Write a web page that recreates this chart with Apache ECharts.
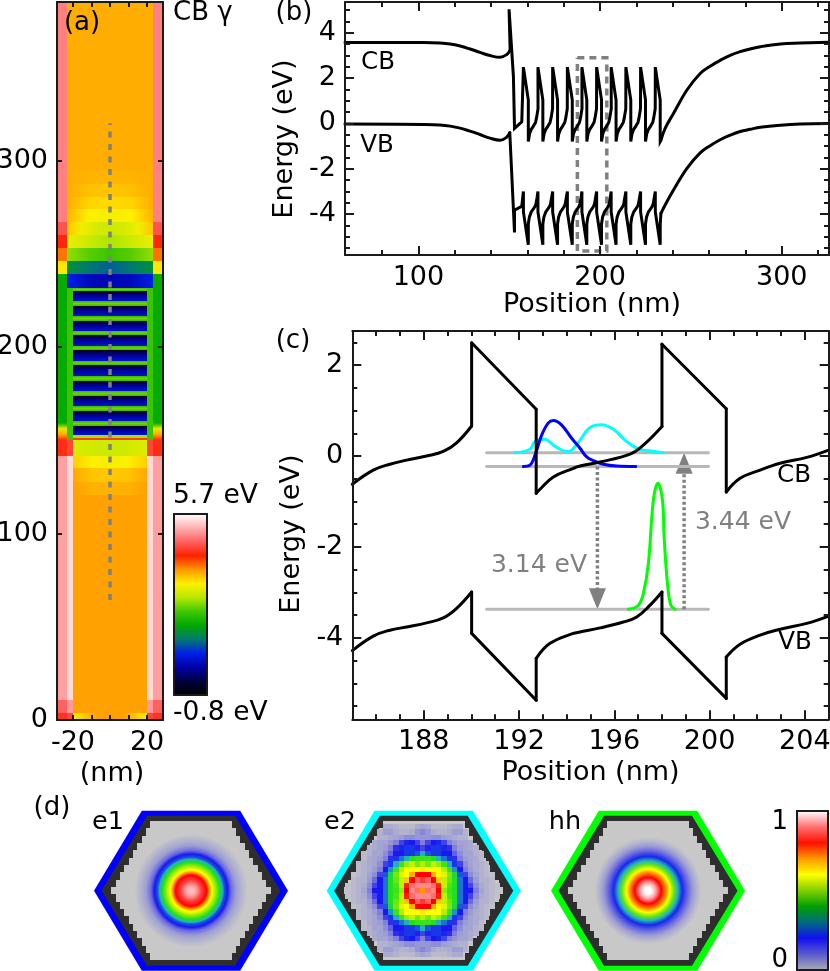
<!DOCTYPE html>
<html>
<head>
<meta charset="utf-8">
<title>Nanowire band structure</title>
<script src="https://cdn.jsdelivr.net/npm/echarts@6/dist/echarts.min.js"></script>
<style>
  html, body { margin: 0; padding: 0; background: #fff; }
  #chart { width: 830px; height: 971px; }
</style>
</head>
<body>
<div id="chart"></div>
<script>
// panel (c): one period and a bit of the band edges
const cbX = [185, 185.88, 186.58, 187.28, 188.12, 188.82, 189.38, 190.01, 190.01, 192.72, 192.72, 192.88, 193.44, 194.28, 194.56, 195.4, 196.66, 197.22, 198, 198, 200.7, 200.7, 201.28, 202.12, 202.96, 204.08, 205];
const cbY = [-0.62, -0.31, -0.18, -0.09, 0, 0.1, 0.29, 0.66, 2.49, 1.03, -0.82, -0.73, -0.46, -0.27, -0.22, -0.13, 0.04, 0.24, 0.65, 2.46, 1.04, -0.79, -0.49, -0.31, -0.16, -0.03, 0.13];
const vbX = [185, 185.88, 186.58, 187.28, 188.12, 188.82, 189.38, 190.01, 190.01, 192.72, 192.72, 193.3, 194.28, 194.56, 195.4, 196.38, 196.94, 197.5, 198, 198, 200.7, 200.7, 201.28, 202.12, 202.96, 204.08, 205];
const vbY = [-4.28, -3.96, -3.83, -3.76, -3.67, -3.56, -3.35, -2.99, -3.9, -5.37, -4.45, -4.12, -3.9, -3.87, -3.78, -3.65, -3.54, -3.28, -2.99, -3.9, -5.33, -4.42, -4.14, -3.94, -3.81, -3.68, -3.52];
const bandCorners = [7, 8, 9, 10, 18, 19, 20, 21];

const e1WaveX = [192.18, 192.46, 192.67, 192.95, 193.23, 193.44, 193.79, 194.21, 194.56, 194.84, 195.12, 195.54, 196.1, 196.9];
const e1WaveY = [-0.23, -0.2, 0.02, 0.46, 0.73, 0.78, 0.68, 0.39, 0.17, -0.02, -0.1, -0.18, -0.22, -0.23];
const e2WaveX = [191.83, 192.46, 192.67, 193.09, 193.44, 193.79, 194.07, 194.41, 194.56, 194.98, 195.47, 195.96, 196.45, 196.94, 197.36, 198.05];
const e2WaveY = [0.07, 0.15, 0.32, 0.37, 0.24, 0.13, 0.1, 0.24, 0.35, 0.63, 0.69, 0.59, 0.35, 0.17, 0.12, 0.07];
const hhWaveX = [196.59, 197.01, 197.22, 197.43, 197.64, 197.83, 198.02, 198.09, 198.23, 198.37, 198.55];
const hhWaveY = [-3.37, -3.28, -3.02, -2.36, -0.97, -0.6, -0.97, -1.78, -2.8, -3.28, -3.37];

const levelY = [0.07, -0.23, -3.37];
const levelX = [190.64, 199.95];
const arrowDownX = 195.29;
const arrowUpX = 198.93;

// panel (b): the whole stack, lead-in and tail plus ten teeth
const peakX = [157.8, 165.8, 173.9, 182, 190, 198.1, 206.1, 214.2, 222.3, 230.4];
const bCbLeadX = [59.6, 102.8, 111.9, 117.5, 123, 128.4, 133.9, 139.4, 145, 148.7, 150.5];
const bCbLeadY = [3.56, 3.56, 3.54, 3.5, 3.41, 3.28, 3.13, 2.99, 2.91, 3.04, 3.23];
const bCbSpikeX = [149.9, 152.3, 152.9, 156.9];
const bCbSpikeY = [5.03, 2.06, -0.22, 0.07];
const cbToothDx = [0, 2.7, 2.7, 3.4, 4.3, 5.4, 6.66, 7.22, 8.05];
const cbToothY = [2.48, 1.03, -0.8, -0.45, -0.27, -0.13, 0.04, 0.24, 0.65];
const bCbTailX = [233.5, 235.8, 240.4, 247.8, 255.1, 260.6, 266.1, 271.6, 277.1, 282.6, 288.2, 299.2, 310.2, 326];
const bCbTailY = [-0.74, -0.22, 0.44, 1.47, 2.2, 2.52, 2.78, 3, 3.16, 3.28, 3.38, 3.5, 3.54, 3.58];
const bVbLeadX = [59.6, 102.8, 111.9, 117.5, 123, 128.4, 133.9, 139.4, 145, 148.7, 150.3];
const bVbLeadY = [-0.03, -0.05, -0.07, -0.12, -0.21, -0.34, -0.49, -0.65, -0.74, -0.6, -0.41];
const bVbSpikeX = [152.9, 152.9, 156.9];
const bVbSpikeY = [-4.81, -3.82, -3.65];
const vbToothDx = [0, 0, 2.7, 2.7, 3.3, 4.3, 5.4, 6.4, 6.94, 7.5];
const vbToothY = [-3, -3.9, -5.35, -4.43, -4.12, -3.9, -3.78, -3.65, -3.54, -3.28];
const bVbTailX = [233.5, 235.8, 240.4, 247.8, 255.1, 260.6, 266.1, 271.6, 277.1, 282.6, 288.2, 299.2, 310.2, 326];
const bVbTailY = [-3.97, -3.6, -2.94, -1.98, -1.3, -0.98, -0.72, -0.52, -0.36, -0.26, -0.17, -0.08, -0.03, -0.01];
const boxX = [187.5, 203.7, 203.7, 187.5, 187.5];
const boxY = [2.89, 2.89, -5.62, -5.62, 2.89];

// panel (a): CB energy map, patches are x0, x1, y0, y1 in nm and energies in eV
const energyColors = ['#000000', '#000040', '#0000a8', '#0020e8', '#007a70', '#00a800', '#40c800', '#b8e800', '#fff000', '#ff9800', '#ff2000', '#ff6060', '#ffb0b0', '#ffffff'];
const rowPatches = [ // energies run left to right
  [-23, 23, 294.2, 385, [3.58, 3.58, 3.58]],
  [-23, 23, 287.4, 294.2, [3.58, 3.54, 3.53, 3.54, 3.58]],
  [-23, 23, 280.6, 287.4, [3.58, 3.47, 3.44, 3.47, 3.58]],
  [-23, 23, 273.8, 280.6, [3.58, 3.36, 3.32, 3.36, 3.58]],
  [-23, 23, 267, 273.8, [3.55, 3.2, 3.12, 3.2, 3.55]],
  [-23, 23, 260, 267, [3.45, 3.1, 2.9, 2.85, 2.9, 3.1, 3.45]],
  [-23, 23, 253, 260, [3.05, 2.85, 2.65, 2.85, 3.05]],
  [-23, 23, 246.1, 253, [2.55, 2.3, 2.15, 2.3, 2.55]],
  [-23, 23, 239.4, 246.1, [1.45, 1.2, 1.05, 1.2, 1.45]],
  [-23, 23, 231.4, 239.4, [0.7, 0.35, 0.3, 0.35, 0.7]],
  [-23, 23, 150, 231.4, [2.15, 2.15]],
  [-20, 20, 141.6, 150.1, [2.95, 2.85, 2.85, 2.95]],
  [-20, 20, 135, 141.6, [3.4, 3.17, 3.14, 3.17, 3.4]],
  [-20, 20, 127.8, 135, [3.6, 3.45, 3.42, 3.45, 3.6]],
  [-20, 20, 120.6, 127.8, [3.65, 3.56, 3.54, 3.56, 3.65]],
  [-20, 20, 3.6, 120.6, [3.65, 3.65]],
  [-20, 20, 0, 3.6, [3.15, 3.65, 3.65, 3.15]]
];
const shellBands = [ // y0, y1, energy of the outer shell
  [267, 385, 4.9],
  [260, 267, 4.6],
  [253, 260, 4.25],
  [246.1, 253, 3.85],
  [239.4, 246.1, 3.25],
  [159, 239.4, 1.75],
  [141.6, 150, 4.3],
  [10.7, 141.6, 5.1],
  [3.6, 10.7, 4.7],
  [0, 3.6, 4.35]
];
const innerShellBands = [ // y0, y1, energy of the thin column next to the core
  [141.6, 150, 4.5],
  [10.7, 141.6, 5.45],
  [3.6, 10.7, 5.05],
  [0, 3.6, 4.5]
];
const wellTops = [230, 221.9, 214.1, 206.2, 198.2, 190.2, 181.8, 173.9, 165.8, 157.8];
const wellBottoms = [224.5, 216.5, 208.6, 200.7, 192.7, 184.6, 176.5, 168.5, 160.5, 152.6];
const wellEnergies = [0.5, 0.15, -0.6];
const barrierEnergies = [2.05, 2.4, 2.05];
const junctionEnergies = [4.3, 3.6, 3, 1.75];
const redLine = [150.1, 151.3, 4.4];
const guideY = [64.3, 320];

// panel (d): wavefunction maps
const mapColors = ['#c8c8c8', '#8080dc', '#1818f0', '#20b0c0', '#20e020', '#b0f000', '#ffff00', '#ff9800', '#ff0000', '#ff8888', '#ffffff'];
const barColors = ['#a9a9b5', '#5a5ad0', '#1010f0', '#006a80', '#00a000', '#80d000', '#ffff00', '#ff9800', '#ff1000', '#ff7070', '#ffffff'];
const hexOuterX = [-30, -15.2, 15.2, 30, 15.2, -15.2];
const hexOuterY = [0, 24.75, 24.75, 0, -24.75, -24.75];
const hexInnerX = [-27.7, -13.6, 13.6, 27.7, 13.6, -13.6];
const hexInnerY = [0, 23.2, 23.2, 0, -23.2, -23.2];
const hexRowWidths = [24.6, 23.3, 22, 20.6, 19.3, 17.9, 16.6, 15.3, 13.9, 12.7];
const hexRowHeight = 2.27;
const e1RingR = [0, 0.9, 2.1, 3.1, 4.8, 5.7, 6.4, 7.4, 8.8, 9.8, 10.3, 11.3, 12.4, 13.9, 15.5, 17.5];
const e1RingV = [0.95, 0.94, 0.9, 0.85, 0.8, 0.7, 0.6, 0.5, 0.4, 0.3, 0.24, 0.2, 0.12, 0.06, 0.03, 0];
const hhRingR = [0, 1, 2.5, 4.1, 5.7, 6.7, 8, 9.3, 10.6, 12.4, 13.9, 15.5, 16.5];
const hhRingV = [1, 1, 0.92, 0.8, 0.7, 0.6, 0.45, 0.3, 0.21, 0.12, 0.06, 0.02, 0];
const e2CellSize = 1.65;
const e2Quadrant = [ // upper right quarter of the e2 map, tenths of the maximum
  [7, 8.8, 9, 8, 4.8, 4.2, 4, 2.6, 2, 2, 1, 0.5, 0.3, 0.2, 0.1],
  [9, 9, 8.8, 7.8, 5.2, 4.3, 4, 2.6, 2, 1.6, 0.8, 0.4, 0.3, 0.2, 0.1],
  [8.4, 8.7, 8, 6.5, 5.2, 4.5, 4, 2.6, 2, 1.2, 0.6, 0.3, 0.3, 0.2],
  [8, 8, 6.8, 6, 5.6, 4.6, 3.8, 2.4, 1.6, 0.8, 0.5, 0.3, 0.2, 0.1],
  [6.2, 6, 6, 6, 5, 4.2, 2.8, 2, 1, 0.6, 0.4, 0.3, 0.2],
  [5, 4.6, 5.2, 4.8, 4.2, 3, 2.2, 1.6, 0.8, 0.5, 0.4, 0.3, 0.2],
  [4.2, 4.2, 4, 3, 2.6, 2.2, 1.8, 1, 0.6, 0.5, 0.4, 0.2],
  [3, 2.4, 2.2, 2.2, 2, 2, 1.3, 0.8, 0.5, 0.5, 0.3, 0.2],
  [1.6, 1.9, 2.2, 2.2, 2.1, 1.8, 1, 0.6, 0.5, 0.4, 0.3],
  [1, 1.6, 2, 2.1, 1.6, 1, 0.7, 0.5, 0.5, 0.4],
  [0.7, 0.7, 0.8, 0.8, 0.6, 0.5, 0.4, 0.3, 0.3],
  [0.9, 0.7, 0.4, 0.3, 0.3, 0.4, 0.6, 0.6, 0.3],
  [0.5, 0.4, 0.2, 0.2, 0.2, 0.3, 0.4, 0.4]
];

const FONT = '"DejaVu Sans"';
const FONT_SIZE = 27;
const FRAME = '#1a1a1a';
const GREY = '#808080';

const chart = echarts.init(document.getElementById('chart'));
const grids = [];
const xAxes = [];
const yAxes = [];
const series = [];

const zip = (xs, ys) => xs.map((x, i) => [x, ys[i]]);
const energyColor = v => echarts.color.lerp((v + 0.8) / 6.5, energyColors);
const mapColor = v => echarts.color.lerp(v, mapColors);
const stopsOf = (values, toColor) => values.map((v, i) => ({ offset: i / (values.length - 1), color: toColor(v) }));

function tickAxis(position, range, ticks, len, line, labels, extra) {
  return Object.assign({
    type: 'value',
    position: position,
    min: range[0],
    max: range[1],
    z: 5,
    splitLine: { show: false },
    axisLine: { show: line, onZero: false, lineStyle: { color: FRAME, width: 2 } },
    axisTick: { show: ticks.length > 0, inside: true, length: len, customValues: ticks, lineStyle: { color: FRAME, width: 2 } },
    axisLabel: labels
      ? { show: true, customValues: labels, fontFamily: FONT, fontSize: FONT_SIZE, color: '#000', margin: 9 }
      : { show: false }
  }, extra || {});
}

// one panel: a grid for the frame and major ticks, a second one on top for minor ticks
function addPanel(p) {
  // outerBoundsMode off, else echarts shrinks the grid for labels that touch the page edge
  const rect = { left: p.left, top: p.top, width: p.width, height: p.height, containLabel: false, outerBoundsMode: 'none' };
  const gridIndex = grids.length;
  grids.push(rect);
  const xIndex = xAxes.length;
  const yIndex = yAxes.length;
  xAxes.push(
    tickAxis('bottom', p.x, p.xMajor, p.majorLen, true, p.xLabels, Object.assign({ gridIndex: gridIndex }, p.xName)),
    tickAxis('top', p.x, p.xMajor, p.majorLen, true, null, { gridIndex: gridIndex })
  );
  yAxes.push(
    tickAxis('left', p.y, p.yMajor, p.majorLen, true, p.yLabels, Object.assign({ gridIndex: gridIndex }, p.yName)),
    tickAxis('right', p.y, p.yMajor, p.majorLen, true, null, { gridIndex: gridIndex })
  );
  if (p.xMinor) {
    grids.push(Object.assign({}, rect));
    xAxes.push(
      tickAxis('bottom', p.x, p.xMinor, 5, false, null, { gridIndex: gridIndex + 1 }),
      tickAxis('top', p.x, p.xMinor, 5, false, null, { gridIndex: gridIndex + 1 })
    );
    yAxes.push(
      tickAxis('left', p.y, p.yMinor, 5, false, null, { gridIndex: gridIndex + 1 }),
      tickAxis('right', p.y, p.yMinor, 5, false, null, { gridIndex: gridIndex + 1 })
    );
  }
  return { xAxisIndex: xIndex, yAxisIndex: yIndex };
}

function axisTitle(text, gap, padding) {
  return {
    name: text,
    nameLocation: 'middle',
    nameGap: gap,
    nameTextStyle: { fontFamily: FONT, fontSize: FONT_SIZE, color: '#000', padding: padding || 0 }
  };
}

function lineSeries(axes, points, color, width, dash, smooth) {
  series.push(Object.assign({
    type: 'line',
    data: points,
    symbol: 'none',
    silent: true,
    smooth: smooth || false,
    lineStyle: { color: color, width: width, type: dash || 'solid', cap: dash ? 'butt' : 'round', join: 'miter', miterLimit: 6 }
  }, axes));
}

// a band edge is curved between its sharp corners, so each run is smoothed by itself
function bandSeries(axes, points, corners, color, width) {
  const stops = [0].concat(corners, [points.length - 1]);
  for (let i = 0; i < stops.length - 1; i++) {
    lineSeries(axes, points.slice(stops[i], stops[i + 1] + 1), color, width, null, 0.4);
  }
}

// --- panel (a)
const axesA = addPanel({
  left: 57, top: 2, width: 106, height: 718,
  x: [-28.6, 28.6], y: [0, 385],
  xMajor: [-20, -10, 0, 10, 20], yMajor: [100, 200, 300], majorLen: 5,
  xLabels: [-20, 20], yLabels: [0, 100, 200, 300],
  xName: axisTitle('(nm)', 26, [0, 0, 0, 4]), yName: {}
});

function bandRect(api, x0, x1, y0, y1, fill) {
  const a = api.coord([x0, y1]);
  const b = api.coord([x1, y0]);
  const left = Math.round(a[0]);
  const top = Math.round(a[1]);
  return { type: 'rect', shape: { x: left, y: top, width: Math.round(b[0]) - left, height: Math.round(b[1]) - top }, style: { fill: fill } };
}
const rowFill = values => new echarts.graphic.LinearGradient(0, 0, 1, 0, stopsOf(values, energyColor));
const colFill = values => new echarts.graphic.LinearGradient(0, 1, 0, 0, stopsOf(values, energyColor));

series.push(Object.assign({
  type: 'custom',
  silent: true,
  data: [0],
  renderItem: (params, api) => {
    const children = [];
    rowPatches.forEach(p => children.push(bandRect(api, p[0], p[1], p[2], p[3], rowFill(p[4]))));
    shellBands.forEach(b => {
      children.push(bandRect(api, -28.6, -23, b[0], b[1], energyColor(b[2])));
      children.push(bandRect(api, 23, 28.6, b[0], b[1], energyColor(b[2])));
    });
    innerShellBands.forEach(b => {
      children.push(bandRect(api, -23, -20, b[0], b[1], energyColor(b[2])));
      children.push(bandRect(api, 20, 23, b[0], b[1], energyColor(b[2])));
    });
    [-28.6, 23].forEach(x => children.push(bandRect(api, x, x + 5.6, 150, 159, colFill(junctionEnergies))));
    wellTops.forEach((top, i) => {
      children.push(bandRect(api, -20, 20, wellBottoms[i], top, colFill(wellEnergies)));
      if (i > 0) children.push(bandRect(api, -20, 20, top, wellBottoms[i - 1], colFill(barrierEnergies)));
    });
    children.push(bandRect(api, -20, 20, wellBottoms[9] - 1.3, wellBottoms[9], colFill([2.6, 2.6])));
    children.push(bandRect(api, -20, 20, redLine[0], redLine[1], energyColor(redLine[2])));
    children.push(bandRect(api, -20, 20, wellTops[0], wellTops[0] + 1.4, colFill(barrierEnergies)));
    return { type: 'group', children: children };
  }
}, axesA));
lineSeries(axesA, [[0, guideY[0]], [0, guideY[1]]], GREY, 3.5, [6, 6.5]);

// colour bar of (a)
const axesABar = addPanel({
  left: 174, top: 514, width: 33, height: 181,
  x: [0, 1], y: [-0.8, 5.7],
  xMajor: [], yMajor: [], majorLen: 0, xName: {}, yName: {}
});
series.push(Object.assign({
  type: 'custom',
  silent: true,
  data: [0],
  renderItem: (params, api) => bandRect(api, 0, 1, -0.8, 5.7, new echarts.graphic.LinearGradient(0, 1, 0, 0, stopsOf(energyColors, c => c)))
}, axesABar));

// --- panel (b)
const axesB = addPanel({
  left: 345, top: 2, width: 484, height: 253,
  x: [59.6, 326], y: [-5.8, 5.35],
  xMajor: [100, 200, 300], xMinor: [80, 120, 140, 160, 180, 220, 240, 260, 280, 320],
  yMajor: [-4, -2, 0, 2, 4], yMinor: [-5.5, -5, -4.5, -3.5, -3, -2.5, -1.5, -1, -0.5, 0.5, 1, 1.5, 2.5, 3, 3.5, 4.5, 5],
  majorLen: 9,
  xLabels: [100, 200, 300], yLabels: [-4, -2, 0, 2, 4],
  xName: axisTitle('Position (nm)', 31, [0, 0, 0, 10]), yName: axisTitle('Energy (eV)', 39, [0, 21, 0, 0])
});
const bCbLead = zip(bCbLeadX, bCbLeadY);
const bVbLead = zip(bVbLeadX, bVbLeadY);
const bCbTail = zip(bCbTailX, bCbTailY);
const bVbTail = zip(bVbTailX, bVbTailY);
const bCb = [bCbLead[bCbLead.length - 1]].concat(zip(bCbSpikeX, bCbSpikeY));
const bVb = [bVbLead[bVbLead.length - 1]].concat(zip(bVbSpikeX, bVbSpikeY));
peakX.forEach((px, i) => {
  const last = i === peakX.length - 1;
  cbToothDx.forEach((dx, k) => { if (!last || k < 3) bCb.push([px + dx, cbToothY[k]]); });
  vbToothDx.forEach((dx, k) => { if (!last || k < 4) bVb.push([px + dx, vbToothY[k]]); });
});
bCb.push(bCbTail[0]);
bVb.push(bVbTail[0]);
lineSeries(axesB, zip(boxX, boxY), GREY, 3.5, [7, 5]);
lineSeries(axesB, bCbLead, '#000', 3, null, 0.4);
lineSeries(axesB, bCb, '#000', 3);
lineSeries(axesB, bCbTail, '#000', 3, null, 0.4);
lineSeries(axesB, bVbLead, '#000', 3, null, 0.4);
lineSeries(axesB, bVb, '#000', 3);
lineSeries(axesB, bVbTail, '#000', 3, null, 0.4);

// --- panel (c)
const axesC = addPanel({
  left: 352.3, top: 331, width: 476.4, height: 388.3,
  x: [185, 205], y: [-5.79, 2.75],
  xMajor: [188, 192, 196, 200, 204], xMinor: [185, 186, 187, 189, 190, 191, 193, 194, 195, 197, 198, 199, 201, 202, 203, 205],
  yMajor: [-4, -2, 0, 2], yMinor: [-5.5, -5, -4.5, -3.5, -3, -2.5, -1.5, -1, -0.5, 0.5, 1, 1.5, 2.5],
  majorLen: 9,
  xLabels: [188, 192, 196, 200, 204], yLabels: [-4, -2, 0, 2],
  xName: axisTitle('Position (nm)', 40), yName: axisTitle('Energy (eV)', 46, [0, 18, 0, 0])
});
levelY.forEach(y => lineSeries(axesC, [[levelX[0], y], [levelX[1], y]], '#b8b8b8', 3));
lineSeries(axesC, zip(e2WaveX, e2WaveY), '#00ffff', 3, null, 0.4);
lineSeries(axesC, zip(e1WaveX, e1WaveY), '#0000ff', 3, null, 0.4);
lineSeries(axesC, zip(hhWaveX, hhWaveY), '#00ff00', 3, null, 0.4);
bandSeries(axesC, zip(cbX, cbY), bandCorners, '#000', 3);
bandSeries(axesC, zip(vbX, vbY), bandCorners, '#000', 3);
lineSeries(axesC, [[arrowDownX, levelY[1]], [arrowDownX, levelY[2] + 0.4]], GREY, 3.5, [3, 2.5]);
lineSeries(axesC, [[arrowUpX, levelY[2]], [arrowUpX, levelY[0] - 0.4]], GREY, 3.5, [3, 2.5]);
series.push(Object.assign({
  type: 'scatter',
  silent: true,
  symbol: 'triangle',
  symbolSize: [17, 21],
  itemStyle: { color: GREY, opacity: 1 },
  data: [
    { value: [arrowDownX, levelY[2] + 0.23], symbolRotate: 180 },
    { value: [arrowUpX, levelY[0] - 0.23] }
  ]
}, axesC));

// --- panel (d)
function addHex(left, border, drawMap) {
  const gridIndex = grids.length;
  grids.push({ left: left, top: 810.7, width: 194, height: 160, outerBoundsMode: 'none' });
  xAxes.push({ show: false, type: 'value', min: -30, max: 30, gridIndex: gridIndex });
  yAxes.push({ show: false, type: 'value', min: -24.75, max: 24.75, gridIndex: gridIndex });
  series.push({
    type: 'custom',
    silent: true,
    data: [0],
    xAxisIndex: xAxes.length - 1,
    yAxisIndex: yAxes.length - 1,
    renderItem: (params, api) => {
      const children = [
        { type: 'polygon', shape: { points: zip(hexOuterX, hexOuterY).map(p => api.coord(p)) }, style: { fill: border } },
        { type: 'polygon', shape: { points: zip(hexInnerX, hexInnerY).map(p => api.coord(p)) }, style: { fill: '#2e2e2e' } }
      ];
      hexRowWidths.forEach((w, k) => {
        const y = k * hexRowHeight;
        children.push(bandRect(api, -w, w, y - hexRowHeight / 2, y + hexRowHeight / 2, mapColors[0]));
        children.push(bandRect(api, -w, w, -y - hexRowHeight / 2, -y + hexRowHeight / 2, mapColors[0]));
      });
      drawMap(api, children);
      return { type: 'group', children: children };
    }
  });
}

function ringMap(radii, values) {
  const outer = radii[radii.length - 1];
  return (api, children) => {
    const c = api.coord([0, 0]);
    const r = api.size([outer, 0])[0];
    children.push({
      type: 'circle',
      shape: { cx: c[0], cy: c[1], r: r },
      style: {
        fill: new echarts.graphic.RadialGradient(0.5, 0.5, 0.5, radii.map((ri, i) => ({ offset: ri / outer, color: mapColor(values[i]) })))
      }
    });
  };
}

function e2Map(api, children) {
  e2Quadrant.forEach((row, j) => row.forEach((tenths, k) => {
    [[1, 1], [-1, 1], [1, -1], [-1, -1]].forEach(s => {
      if ((s[0] < 0 && k === 0) || (s[1] < 0 && j === 0)) return;
      const x = s[0] * k * e2CellSize - 0.3;
      const y = s[1] * j * e2CellSize;
      const half = e2CellSize / 2;
      children.push(bandRect(api, x - half, x + half, y - half, y + half, mapColor(tenths / 10)));
    });
  }));
}

addHex(94, '#0000ff', ringMap(e1RingR, e1RingV));
addHex(326.7, '#00ffff', e2Map);
addHex(551, '#00ff00', ringMap(hhRingR, hhRingV));

// colour bar of (d)
const axesDBar = addPanel({
  left: 797, top: 811, width: 31, height: 159,
  x: [0, 1], y: [0, 1],
  xMajor: [], yMajor: [], majorLen: 0, xName: {}, yName: {}
});
series.push(Object.assign({
  type: 'custom',
  silent: true,
  data: [0],
  renderItem: (params, api) => bandRect(api, 0, 1, 0, 1, new echarts.graphic.LinearGradient(0, 1, 0, 0, stopsOf(barColors, c => c)))
}, axesDBar));

// --- free text
const textStyle = (text, x, y, size, align, color) => ({
  type: 'text',
  x: x,
  y: y,
  z: 20,
  silent: true,
  style: { text: text, fontFamily: FONT, fontSize: size, fill: color || '#000', align: align || 'center', verticalAlign: 'middle' }
});
const notes = [
  textStyle('(a)', 82, 23, 26),
  textStyle('CB γ', 173, 13, 26, 'left'),
  textStyle('5.7 eV', 173, 496, 26.5, 'left'),
  textStyle('-0.8 eV', 173, 713, 26.5, 'left'),
  textStyle('(b)', 294, 13, 26),
  textStyle('CB', 378, 63, 24.5),
  textStyle('VB', 377, 146, 24.5),
  textStyle('(c)', 293, 341, 26),
  textStyle('3.14 eV', 539, 565, 25, 'center', GREY),
  textStyle('3.44 eV', 743, 522, 25, 'center', GREY),
  textStyle('CB', 794, 476, 24.5),
  textStyle('VB', 795, 643, 24.5),
  textStyle('(d)', 52, 808, 26),
  textStyle('e1', 108, 822, 25.5),
  textStyle('e2', 340, 822, 25.5),
  textStyle('hh', 565, 822, 25.5),
  textStyle('1', 788, 822, 26, 'right'),
  textStyle('0', 788, 960, 26, 'right')
];

chart.setOption({
  animation: false,
  backgroundColor: '#fff',
  textStyle: { fontFamily: FONT },
  grid: grids,
  xAxis: xAxes,
  yAxis: yAxes,
  series: series,
  graphic: notes
});
</script>
</body>
</html>
